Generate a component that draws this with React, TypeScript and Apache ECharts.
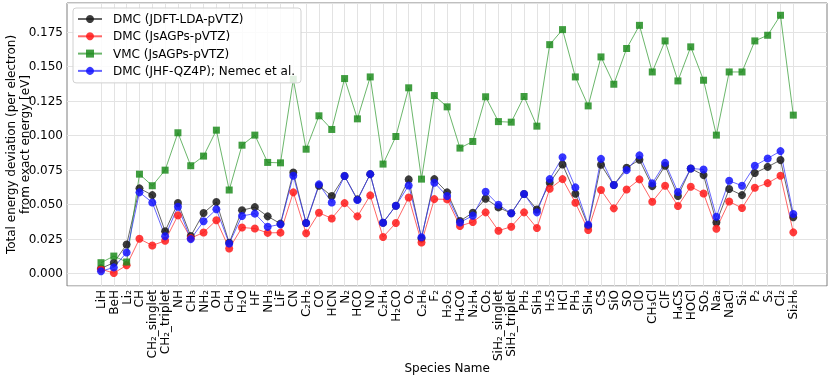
import React, { useEffect, useRef } from "react";
import * as echarts from "echarts";

const categories = [
  "LiH", "BeH", "Li₂", "CH", "CH₂_singlet", "CH₂_triplet", "NH", "CH₃", "NH₂", "OH",
  "CH₄", "H₂O", "HF", "NH₃", "LiF", "CN", "C₂H₂", "CO", "HCN", "N₂",
  "HCO", "NO", "C₂H₄", "H₂CO", "O₂", "C₂H₆", "F₂", "H₂O₂", "H₄CO", "N₂H₄",
  "CO₂", "SiH₂_singlet", "SiH₂_triplet", "PH₂", "SiH₃", "H₂S", "HCl", "PH₃", "SiH₄", "CS",
  "SiO", "SO", "ClO", "CH₃Cl", "ClF", "H₄CS", "HOCl", "SO₂", "Na₂", "NaCl",
  "Si₂", "P₂", "S₂", "Cl₂", "Si₂H₆",
];

const dmcLda = [
  0.0036, 0.0077, 0.0209, 0.0616, 0.0567, 0.0305, 0.051, 0.027, 0.0437, 0.0517,
  0.0221, 0.0457, 0.048, 0.0413, 0.036, 0.0731, 0.0365, 0.0635, 0.056, 0.0705,
  0.0536, 0.0719, 0.0367, 0.049, 0.0681, 0.0253, 0.0683, 0.0587, 0.0379, 0.0439,
  0.0541, 0.0478, 0.0435, 0.0575, 0.0463, 0.0657, 0.0789, 0.0577, 0.0343, 0.0787,
  0.064, 0.0765, 0.0823, 0.0632, 0.078, 0.056, 0.076, 0.0712, 0.0369, 0.0611,
  0.0567, 0.0727, 0.0772, 0.0821, 0.0406,
];

const dmcSagp = [
  0.003, 0.0002, 0.0058, 0.025, 0.0202, 0.0236, 0.042, 0.0255, 0.0296, 0.0385,
  0.018, 0.0332, 0.0325, 0.0293, 0.0295, 0.0587, 0.029, 0.0439, 0.0398, 0.0509,
  0.0413, 0.0565, 0.0263, 0.0365, 0.055, 0.0224, 0.0538, 0.0536, 0.0343, 0.0372,
  0.0442, 0.0309, 0.0338, 0.0442, 0.0328, 0.0613, 0.0683, 0.0512, 0.0314, 0.0604,
  0.0471, 0.0608, 0.0681, 0.0519, 0.0635, 0.0488, 0.0628, 0.0579, 0.0323, 0.0521,
  0.0473, 0.062, 0.0654, 0.0707, 0.0297,
];

const vmcSagp = [
  0.0077, 0.0125, 0.0082, 0.0719, 0.0635, 0.0748, 0.1019, 0.078, 0.085, 0.1038,
  0.0604, 0.0929, 0.1002, 0.0804, 0.0801, 0.1407, 0.09, 0.1142, 0.1043, 0.1412,
  0.112, 0.1424, 0.0792, 0.0992, 0.1345, 0.0683, 0.1289, 0.1207, 0.0908, 0.0956,
  0.128, 0.11, 0.1096, 0.1282, 0.1067, 0.1658, 0.1767, 0.1424, 0.1214, 0.1569,
  0.1371, 0.163, 0.1798, 0.146, 0.1685, 0.1395, 0.1642, 0.14, 0.1002, 0.146,
  0.146, 0.1685, 0.1726, 0.1871, 0.1147,
];

const dmcNemec = [
  0.0015, 0.0043, 0.0151, 0.0587, 0.0514, 0.0269, 0.0483, 0.0248, 0.0377, 0.0464,
  0.0216, 0.0416, 0.0433, 0.0337, 0.0355, 0.0707, 0.0365, 0.0645, 0.0514, 0.0705,
  0.0531, 0.0719, 0.0367, 0.049, 0.0637, 0.0261, 0.0657, 0.056, 0.0369, 0.0418,
  0.0591, 0.0497, 0.0435, 0.0575, 0.0442, 0.0683, 0.0842, 0.0623, 0.0352, 0.083,
  0.064, 0.0748, 0.0855, 0.0652, 0.0801, 0.0589, 0.076, 0.0753, 0.041, 0.0671,
  0.0635, 0.078, 0.0833, 0.0886, 0.043,
];

const seriesNames = [
  "DMC (JDFT-LDA-pVTZ)",
  "DMC (JsAGPs-pVTZ)",
  "VMC (JsAGPs-pVTZ)",
  "DMC (JHF-QZ4P); Nemec et al.",
];

const Y_MIN = -0.0092;
const Y_MAX = 0.196;
const Y_STEP = 0.025;

const FRAME_LEFT = 67;
const FRAME_RIGHT = 3;
const FIRST_X = 101;
const LAST_X = 793.3;
const W = 830;

export default function App() {
  const ref = useRef<HTMLDivElement>(null);

  useEffect(() => {
    if (!ref.current) return;
    const chart = echarts.init(ref.current, null, { renderer: "svg" });
    const font = "DejaVu Sans";

    const mk = (
      name: string,
      vals: number[],
      color: string,
      lineColor: string,
      symbol: string,
      size: number
    ) => ({
      name,
      type: "line",
      xAxisIndex: 1,
      yAxisIndex: 1,
      data: vals,
      symbol,
      symbolSize: size,
      showSymbol: true,
      itemStyle: { color, opacity: 0.85 },
      lineStyle: { color: lineColor, width: 1, opacity: 0.75 },
      emphasis: { disabled: true },
    });

    const yBase = {
      type: "value",
      min: Y_MIN,
      max: Y_MAX,
      minInterval: Y_STEP,
      maxInterval: Y_STEP,
      axisLine: { show: false },
      axisTick: { show: false },
    };

    chart.setOption({
      animation: false,
      textStyle: { fontFamily: font },
      grid: [
        {
          left: FRAME_LEFT,
          top: 3,
          right: FRAME_RIGHT,
          bottom: 92,
          show: true,
          borderColor: "#7f7f7f",
          borderWidth: 1,
          backgroundColor: "transparent",
          containLabel: false,
          outerBoundsMode: "none",
        },
        {
          left: FIRST_X,
          top: 3,
          right: W - LAST_X,
          bottom: 92,
          containLabel: false,
          outerBoundsMode: "none",
        },
      ],
      legend: {
        orient: "vertical",
        left: 73,
        top: 8,
        padding: [5, 6, 6, 4],
        itemWidth: 24,
        itemHeight: 10,
        itemGap: 5.3,
        backgroundColor: "rgba(255,255,255,0.85)",
        borderColor: "#d0d0d0",
        borderWidth: 1,
        borderRadius: 3,
        textStyle: {
          fontFamily: font,
          fontSize: 12,
          lineHeight: 12,
          color: "#000",
          padding: [0, 0, 0, 6],
        },
        data: seriesNames,
      },
      xAxis: [
        {
          gridIndex: 0,
          type: "category",
          data: [""],
          axisLine: { show: false },
          axisTick: { show: false },
          axisLabel: { show: false },
          splitLine: { show: false },
        },
        {
          gridIndex: 1,
          type: "category",
          data: categories,
          boundaryGap: false,
          axisLine: { show: false },
          axisTick: { show: false },
          splitLine: { show: true, lineStyle: { color: "#e3e3e3", width: 1 } },
          axisLabel: {
            interval: 0,
            rotate: 90,
            margin: 4,
            fontSize: 12,
            color: "#000",
            fontFamily: font,
          },
          name: "Species Name",
          nameLocation: "middle",
          nameGap: 76,
          nameMoveOverlap: false,
          nameTextStyle: { fontSize: 12, color: "#000", fontFamily: font },
        },
      ],
      yAxis: [
        {
          ...yBase,
          gridIndex: 0,
          splitLine: { show: true, lineStyle: { color: "#e3e3e3", width: 1 } },
          axisLabel: {
            showMinLabel: false,
            showMaxLabel: false,
            margin: 4,
            fontSize: 12,
            color: "#000",
            fontFamily: font,
            formatter: (v: number) => v.toFixed(3),
          },
          name: "Total energy deviation (per electron)\nfrom exact energy [eV]",
          nameLocation: "middle",
          nameGap: 35,
          nameMoveOverlap: false,
          nameTextStyle: {
            fontSize: 12,
            lineHeight: 14,
            color: "#000",
            fontFamily: font,
            align: "center",
          },
        },
        {
          ...yBase,
          gridIndex: 1,
          splitLine: { show: false },
          axisLabel: { show: false },
        },
      ],
      series: [
        mk(seriesNames[0], dmcLda, "#1a1a1a", "#333333", "circle", 8),
        mk(seriesNames[1], dmcSagp, "#ff1a1a", "#ff3333", "circle", 8),
        mk(seriesNames[2], vmcSagp, "#1e8c1e", "#3a9e3a", "rect", 7),
        mk(seriesNames[3], dmcNemec, "#1414ff", "#3333ff", "circle", 8),
      ],
    });

    return () => chart.dispose();
  }, []);

  return (
    <div
      ref={ref}
      style={{ position: "fixed", left: 0, top: 0, width: 830, height: 378 }}
    />
  );
}
